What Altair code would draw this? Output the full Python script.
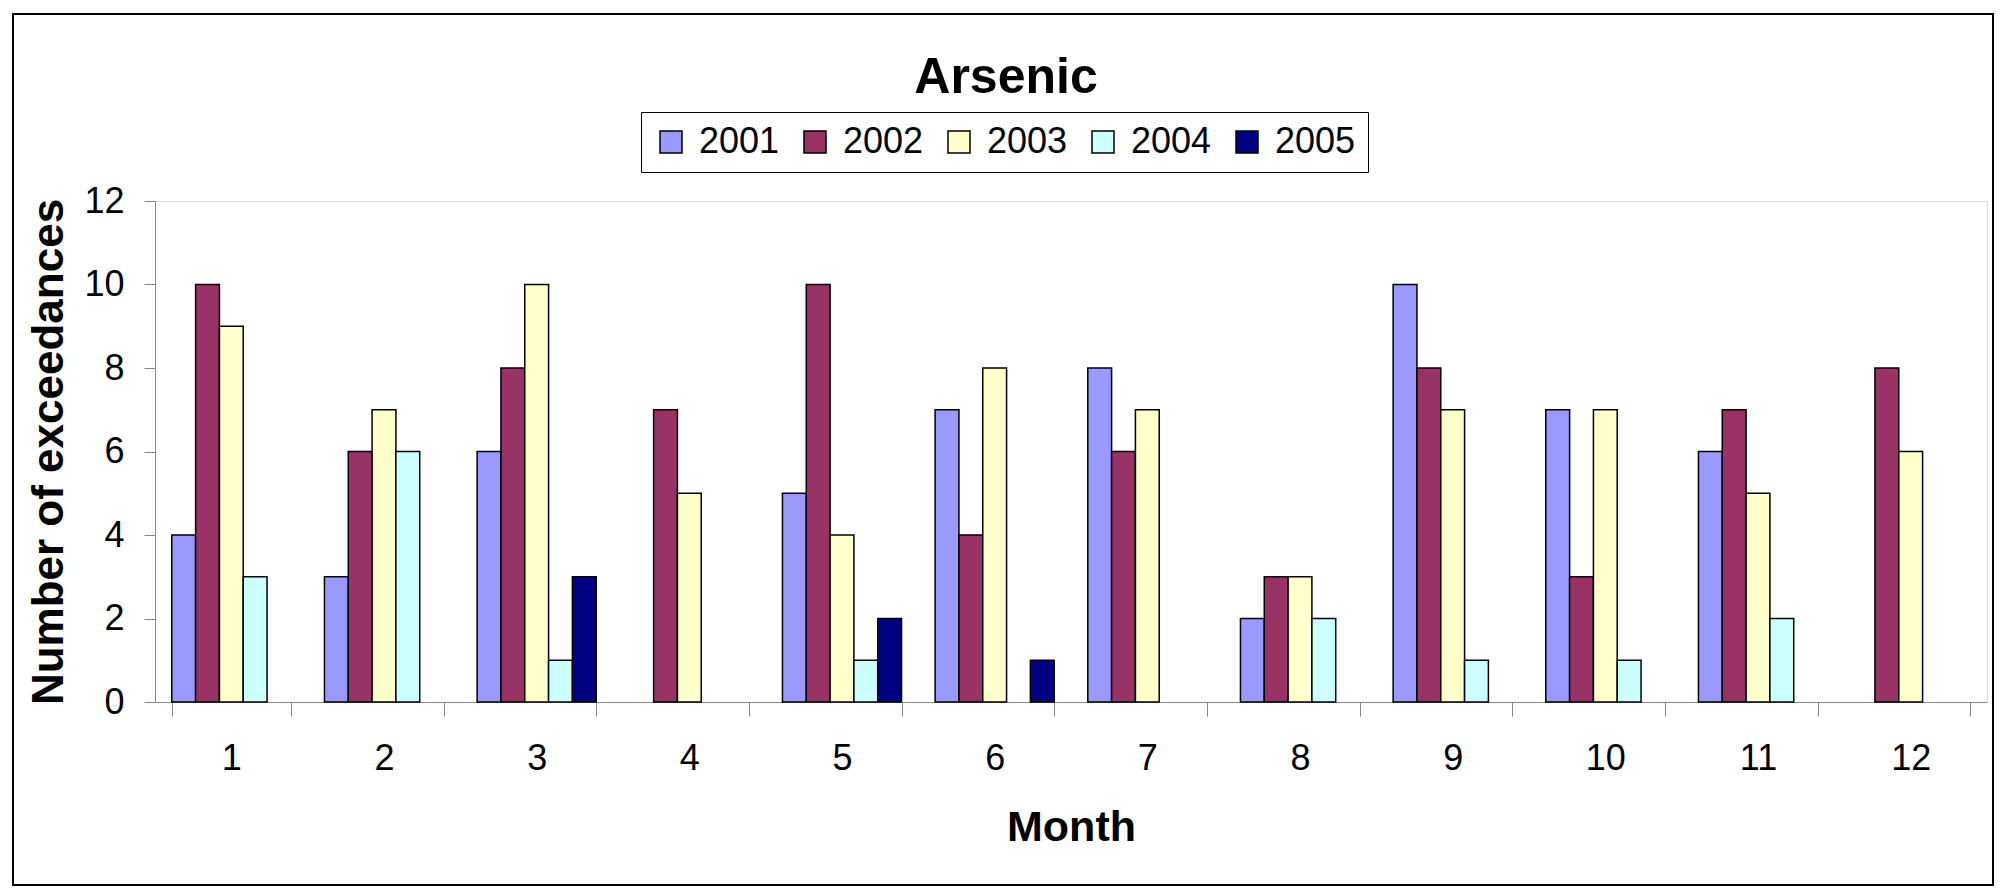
import altair as alt
import pandas as pd

months = list(range(1, 13))
years = ["2001", "2002", "2003", "2004", "2005"]
v2001 = [4, 3, 6, 0, 5, 7, 8, 2, 10, 7, 6, 0]
v2002 = [10, 6, 8, 7, 10, 4, 6, 3, 8, 3, 7, 8]
v2003 = [9, 7, 10, 5, 4, 8, 7, 3, 7, 7, 5, 6]
v2004 = [3, 6, 1, 0, 1, 0, 0, 2, 1, 1, 2, 0]
v2005 = [0, 0, 3, 0, 2, 1, 0, 0, 0, 0, 0, 0]
colors = ["#9999FF", "#993366", "#FFFFCC", "#CCFFFF", "#000080"]
y_ticks = [0, 2, 4, 6, 8, 10, 12]

series = dict(zip(years, [v2001, v2002, v2003, v2004, v2005]))
rows = []
for yr, vals in series.items():
    for m, v in zip(months, vals):
        if v > 0:
            rows.append({"Month": m, "Year": yr, "Count": v})
df = pd.DataFrame(rows)

FONT = "Liberation Sans, Arial, sans-serif"

bars = alt.Chart(df).mark_bar(stroke="black", strokeWidth=1.5).encode(
    x=alt.X(
        "Month:O",
        scale=alt.Scale(domain=months, paddingInner=0.22, paddingOuter=0.11),
        axis=alt.Axis(
            title="Month", labelAngle=0, tickBand="extent", tickSize=14,
            labelPadding=25, labelFontSize=36, labelFont=FONT,
            titleFontSize=43, titleFont=FONT, titleFontWeight="bold",
            titlePadding=30,
        ),
    ),
    xOffset=alt.XOffset("Year:N", scale=alt.Scale(domain=years, paddingInner=0, paddingOuter=0)),
    y=alt.Y(
        "Count:Q",
        scale=alt.Scale(domain=[0, 12], nice=False),
        axis=alt.Axis(
            values=y_ticks, grid=False, title="Number of exceedances",
            tickSize=11, labelPadding=20, labelFontSize=36, labelFont=FONT,
            titleFontSize=44, titleFont=FONT, titleFontWeight="bold",
            titlePadding=12,
        ),
    ),
    color=alt.Color(
        "Year:N",
        scale=alt.Scale(domain=years, range=colors),
        legend=alt.Legend(
            title=None, orient="none", legendX=486, legendY=-89,
            direction="horizontal", symbolType="square", symbolSize=484,
            symbolStrokeColor="black", symbolStrokeWidth=1.5,
            labelFontSize=36, labelFont=FONT, labelColor="black",
            labelOffset=10, columnPadding=17, padding=12,
            strokeColor="black", fillColor="white",
        ),
    ),
)

frame = alt.Chart(pd.DataFrame({"f": [0]})).mark_rect(
    fill="transparent", stroke="black", strokeWidth=2
).encode(
    x=alt.value(-142), x2=alt.value(1838), y=alt.value(-187), y2=alt.value(684)
)

chart = alt.layer(frame, bars).properties(
    width=1832,
    height=501,
    padding={"left": 4, "top": 5, "right": 0, "bottom": 0},
    title=alt.Title(
        "Arsenic", fontSize=50, font=FONT, fontWeight="bold", anchor="middle",
        dx=-65, offset=-90, color="black",
    ),
).configure_view(
    stroke="#707070", strokeWidth=2
).configure_axis(
    domainColor="black", domainWidth=1.5, tickColor="black", tickWidth=1.5,
    labelColor="black", titleColor="black",
).configure_legend(
    strokeWidth=1.5
).configure(background="white")

chart.save("out.html", embed_options={"renderer": "svg", "actions": False})
